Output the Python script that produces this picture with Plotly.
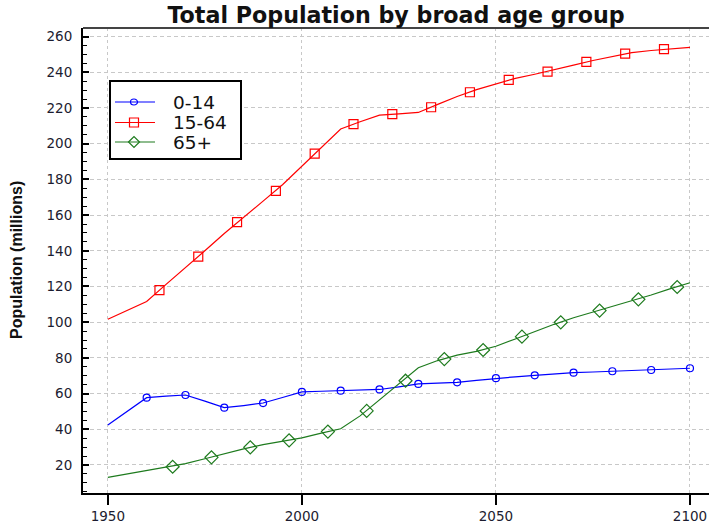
import plotly.graph_objects as go

# Five-yearly population estimates / projections (millions)
years = list(range(1950, 2101, 5))

age_0_14 = [42.4, 50.0, 57.7, 58.6, 59.2, 55.8, 52.1, 53.3, 54.7, 57.8,
            60.9, 61.3, 61.6, 62.0, 62.3, 63.8, 65.4, 65.9, 66.3, 67.4,
            68.6, 69.4, 70.2, 71.0, 71.7, 72.1, 72.5, 72.9, 73.2, 73.7, 74.2]

age_15_64 = [101.6, 106.5, 111.6, 121.2, 130.5, 140.0, 149.7, 159.0, 167.8, 177.0,
             187.4, 197.4, 208.2, 212.3, 216.0, 216.7, 217.5, 222.0, 226.4, 230.3,
             233.6, 236.6, 238.9, 241.3, 244.0, 246.6, 249.0, 251.0, 252.2, 253.3, 254.0]

age_65_plus = [13.1, 15.0, 16.8, 18.5, 20.8, 23.5, 26.3, 29.0, 31.4, 33.3,
               35.2, 37.8, 40.3, 47.5, 56.5, 65.0, 74.5, 78.5, 81.5, 83.6,
               86.5, 90.6, 94.8, 98.8, 102.5, 105.6, 108.8, 111.8, 115.2, 118.8, 122.1]

# Symbol positions along each curve (staggered so symbols do not overlap)
mark_x_0_14 = list(range(1960, 2101, 10))
mark_y_0_14 = [57.7, 59.2, 52.1, 54.7, 60.9, 61.6, 62.3, 65.4, 66.3, 68.6,
               70.2, 71.7, 72.5, 73.2, 74.2]

mark_x_15_64 = [1963.3, 1973.3, 1983.3, 1993.3, 2003.3, 2013.3, 2023.3, 2033.3,
                2043.3, 2053.3, 2063.3, 2073.3, 2083.3, 2093.3]
mark_y_15_64 = [118.0, 136.7, 156.1, 173.5, 194.4, 210.9, 216.5, 220.4,
                228.8, 235.7, 240.4, 245.8, 250.5, 253.0]

mark_x_65_plus = [1966.7, 1976.7, 1986.7, 1996.7, 2006.7, 2016.7, 2026.7, 2036.7,
                  2046.7, 2056.7, 2066.7, 2076.7, 2086.7, 2096.7]
mark_y_65_plus = [19.0, 24.3, 29.9, 33.8, 38.7, 50.3, 67.2, 79.3,
                  84.4, 91.9, 99.9, 106.5, 112.8, 119.7]

labels = ["0-14", "15-64", "65+"]
colors = ["#0000ff", "#ff0000", "#1e7b1e"]
symbols = ["circle-open", "square-open", "diamond-open"]
sizes = [7, 9, 10]

series = zip(labels, [age_0_14, age_15_64, age_65_plus],
             [mark_x_0_14, mark_x_15_64, mark_x_65_plus],
             [mark_y_0_14, mark_y_15_64, mark_y_65_plus],
             colors, symbols, sizes)

fig = go.Figure()
for name, vals, mx, my, color, symbol, size in series:
    fig.add_trace(go.Scatter(x=years, y=vals, mode="lines", name=name,
                             legendgroup=name, showlegend=False,
                             line=dict(color=color, width=1.2)))
    fig.add_trace(go.Scatter(x=mx, y=my, mode="markers", name=name,
                             legendgroup=name, showlegend=False,
                             marker=dict(symbol=symbol, size=size, color=color,
                                         line=dict(color=color, width=1.2))))

# Plot-area geometry in pixels (used to place the key box and labels)
W, H = 709, 529
L, T, B = 83, 28, 36
pw, ph = W - L, H - T - B


def px(x):
    return (x - L) / pw


def py(y):
    return (H - B - y) / ph


shapes = [
    # top frame line
    dict(type="line", xref="paper", yref="paper", x0=0, x1=1, y0=1, y1=1,
         line=dict(color="#444", width=2)),
    # key box
    dict(type="rect", xref="paper", yref="paper",
         x0=px(110), x1=px(241), y0=py(81), y1=py(159),
         line=dict(color="black", width=2), fillcolor="white", layer="above"),
]
annotations = []
key_rows = [102, 122.5, 142]
for name, color, symbol, yy in zip(labels, colors, symbols, key_rows):
    shapes.append(dict(type="line", xref="paper", yref="paper",
                       x0=px(115), x1=px(155), y0=py(yy), y1=py(yy),
                       line=dict(color=color, width=1.2), layer="above"))
    cx = 134
    if symbol == "circle-open":
        shapes.append(dict(type="circle", xref="paper", yref="paper",
                           x0=px(cx - 3.5), x1=px(cx + 3.5), y0=py(yy + 3), y1=py(yy - 3),
                           line=dict(color=color, width=1.2), fillcolor="rgba(0,0,0,0)",
                           layer="above"))
    elif symbol == "square-open":
        shapes.append(dict(type="rect", xref="paper", yref="paper",
                           x0=px(cx - 4.5), x1=px(cx + 4.5), y0=py(yy + 4.5), y1=py(yy - 4.5),
                           line=dict(color=color, width=1.2), fillcolor="rgba(0,0,0,0)",
                           layer="above"))
    else:
        path = "M {:.5f} {:.5f} L {:.5f} {:.5f} L {:.5f} {:.5f} L {:.5f} {:.5f} Z".format(
            px(cx - 5.5), py(yy), px(cx), py(yy - 5.5),
            px(cx + 5.5), py(yy), px(cx), py(yy + 5.5))
        shapes.append(dict(type="path", xref="paper", yref="paper", path=path,
                           line=dict(color=color, width=1.2), fillcolor="rgba(0,0,0,0)",
                           layer="above"))
    annotations.append(dict(text=name, xref="paper", yref="paper",
                            x=px(171), y=py(yy), xanchor="left", yanchor="middle",
                            showarrow=False,
                            font=dict(family="DejaVu Sans, Verdana, sans-serif",
                                      size=18.5, color="#111")))

annotations.append(dict(text="<b>Population (millions)</b>", textangle=-90,
                        xref="paper", yref="paper", x=px(16), y=py(260),
                        xanchor="center", yanchor="middle", showarrow=False,
                        font=dict(family="Liberation Sans, Arial, sans-serif",
                                  size=16, color="#111")))

tick_font = dict(family="DejaVu Sans, Verdana, sans-serif", size=13.5, color="#1c1c30")

fig.update_layout(
    width=W, height=H,
    margin=dict(l=L, r=0, t=T, b=B),
    paper_bgcolor="white", plot_bgcolor="white",
    showlegend=False,
    title=dict(text="<b>Total Population by broad age group</b>",
               x=0.5, xref="paper", xanchor="center",
               y=1 - 15 / H, yref="container", yanchor="middle",
               font=dict(family="DejaVu Sans, Verdana, sans-serif", size=22.2, color="#111")),
    xaxis=dict(range=[1943.6, 2104.9], tickvals=[1950, 2000, 2050, 2100],
               ticks="outside", ticklen=10, tickwidth=1.5, tickcolor="black",
               showline=True, linecolor="black", linewidth=2,
               showgrid=True, gridcolor="#c8c8c8", gridwidth=1, griddash="3px,3px",
               zeroline=False, tickfont=tick_font),
    yaxis=dict(range=[4.3, 264.8], tick0=0, dtick=20,
               ticks="inside", ticklen=6, tickwidth=1.5, tickcolor="black",
               minor=dict(dtick=5, tick0=0, ticks="inside", ticklen=4,
                          tickwidth=1, tickcolor="black", showgrid=False),
               showline=True, linecolor="black", linewidth=2,
               showgrid=True, gridcolor="#c8c8c8", gridwidth=1, griddash="4px,3px",
               zeroline=False, tickfont=tick_font, ticklabelstandoff=6),
    shapes=shapes,
    annotations=annotations,
)

fig.write_html("out.html")
